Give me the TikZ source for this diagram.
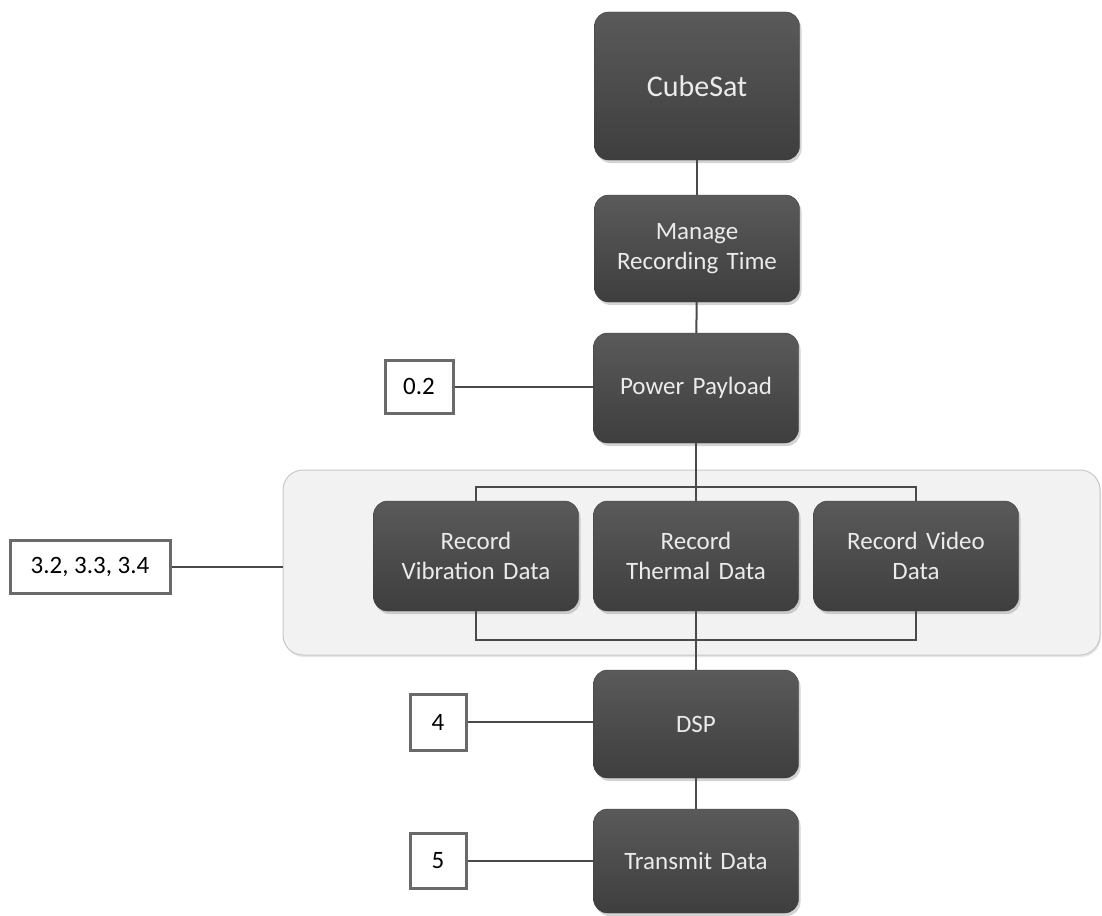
\documentclass[tikz,border=0pt]{standalone}
\usepackage{fontspec}
\setmainfont{Carlito}
\usetikzlibrary{shadows}
\definecolor{boxtop}{HTML}{5A5A5A}
\definecolor{boxbot}{HTML}{3E3E3E}
\definecolor{linegray}{HTML}{4A4A4A}
\definecolor{labelrim}{HTML}{6A6A6A}
\definecolor{panelfill}{HTML}{F2F2F2}
\definecolor{panelrim}{HTML}{C8C8C8}
\begin{document}
\begin{tikzpicture}[x=1pt,y=-1pt,
  task/.style={rounded corners=14pt, minimum width=205pt, text width=195pt,
    align=center, top color=boxtop, bottom color=boxbot, draw=boxbot,
    text=white!92!black, font=\fontsize{25}{30}\selectfont,
    drop shadow={shadow xshift=2pt, shadow yshift=-3pt, opacity=0.35}},
  reqlabel/.style={draw=labelrim, line width=3pt, fill=white, align=center,
    font=\fontsize{25}{30}\selectfont, inner sep=0pt},
  link/.style={draw=linegray, line width=2pt}]
\useasboundingbox (0,0) rectangle (1102,915);

% grouping panel behind the three recording tasks
\node[draw=panelrim, fill=panelfill, rounded corners=20pt, line width=1pt,
  minimum width=817pt, minimum height=185pt,
  drop shadow={shadow xshift=1pt, shadow yshift=-2pt, opacity=0.2}]
  (panel) at (691.5,562.5) {};

% main chain
\node[task, minimum height=148pt, font=\fontsize{30}{36}\selectfont] (cube) at (697,86) {CubeSat};
\node[task, minimum height=107pt] (manage) at (697,248.5) {Manage\\Recording Time};
\node[task, minimum height=110pt] (power) at (696,388) {Power Payload};
\node[task, minimum height=110pt] (vib) at (476,556) {Record\\Vibration Data};
\node[task, minimum height=110pt] (therm) at (696,556) {Record\\Thermal Data};
\node[task, minimum height=110pt] (video) at (916,556) {Record Video\\Data};
\node[task, minimum height=108pt] (dsp) at (696,724) {DSP};
\node[task, minimum height=104pt] (tx) at (696,861) {Transmit Data};

% requirement labels
\node[reqlabel, minimum width=68pt, minimum height=53pt] (l02) at (419,386.5) {0.2};
\node[reqlabel, minimum width=160pt, minimum height=53pt] (l3) at (90,567) {3.2, 3.3, 3.4};
\node[reqlabel, minimum width=56pt, minimum height=56pt] (l4) at (438,722) {4};
\node[reqlabel, minimum width=56pt, minimum height=55pt] (l5) at (438,860.5) {5};

% fan-out / fan-in points
\coordinate (splitc) at (696,487);
\coordinate (mergec) at (696,640);

% connectors
\draw[link] (cube) -- (manage);
\draw[link] (manage) -- (power);
\draw[link, line width=1.4pt] (power.south) -- (splitc);
\draw[link, line width=1.4pt] (vib.north) |- (splitc) -| (video.north);
\draw[link, line width=1.4pt] (splitc) -- (therm.north);
\draw[link, line width=1.4pt] (vib.south) |- (mergec) -| (video.south);
\draw[link, line width=1.4pt] (therm.south) -- (mergec);
\draw[link, line width=1.4pt] (mergec) -- (dsp.north);
\draw[link] (dsp) -- (tx);

\draw[link] (l02.east) -- (l02.east -| power.west);
\draw[link] (l3.east) -- (l3.east -| panel.west);
\draw[link] (l4.east) -- (l4.east -| dsp.west);
\draw[link] (l5.east) -- (l5.east -| tx.west);
\end{tikzpicture}
\end{document}
